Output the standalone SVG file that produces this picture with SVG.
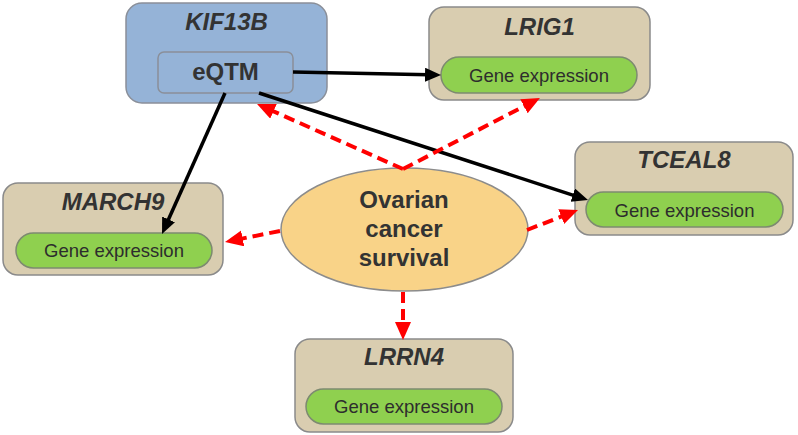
<svg xmlns="http://www.w3.org/2000/svg" width="798" height="435" viewBox="0 0 798 435">
<style>
.box{fill:#d9cdb0;stroke:#8a8a8a;stroke-width:1.5}
.blue{fill:#95b3d7;stroke:#8a8f99;stroke-width:1.5}
.pill{fill:#8fd04f;stroke:#7d8a70;stroke-width:1.5}
.title{font-family:"Liberation Sans",Arial,sans-serif;font-size:24px;font-weight:bold;font-style:italic;fill:#333;text-anchor:middle}
.bold{font-family:"Liberation Sans",Arial,sans-serif;font-size:24px;font-weight:bold;fill:#333;text-anchor:middle}
.ge{font-family:"Liberation Sans",Arial,sans-serif;font-size:18.5px;fill:#2d2d2d;text-anchor:middle}
.blk{stroke:#000;stroke-width:3.5;fill:none;marker-end:url(#ab)}
.red{stroke:#ff0000;stroke-width:4;stroke-dasharray:11 6;fill:none;marker-end:url(#ar)}
</style>
<defs>
<marker id="ab" markerUnits="userSpaceOnUse" markerWidth="18" markerHeight="18" refX="4" refY="7" orient="auto"><path d="M0,0 L16,7 L0,14 z" fill="#000"/></marker>
<marker id="ar" markerUnits="userSpaceOnUse" markerWidth="20" markerHeight="20" refX="6" refY="8" orient="auto"><path d="M0,0 L18,8 L0,16 z" fill="#ff0000"/></marker>
</defs>
<g id="KIF13B">
<rect class="blue" x="126" y="3" width="201" height="100" rx="16"/>
<text class="title" x="226.5" y="30">KIF13B</text>
<g id="eQTM">
<rect class="blue" x="158" y="52" width="135" height="41" rx="6"/>
<text class="bold" x="225.5" y="80">eQTM</text>
</g>
</g>
<g id="LRIG1">
<rect class="box" x="429" y="7" width="221" height="93" rx="15"/>
<text class="title" x="539.5" y="35">LRIG1</text>
<rect class="pill" x="441" y="57" width="196" height="36" rx="18"/>
<text class="ge" x="539" y="82">Gene expression</text>
</g>
<g id="TCEAL8">
<rect class="box" x="575" y="142" width="218" height="93" rx="15"/>
<text class="title" x="684" y="168">TCEAL8</text>
<rect class="pill" x="586" y="192" width="197" height="35" rx="17.5"/>
<text class="ge" x="684.5" y="217">Gene expression</text>
</g>
<g id="MARCH9">
<rect class="box" x="3" y="183" width="220" height="92" rx="15"/>
<text class="title" x="113" y="210">MARCH9</text>
<rect class="pill" x="16" y="233" width="196" height="35" rx="17.5"/>
<text class="ge" x="114" y="257">Gene expression</text>
</g>
<g id="LRRN4">
<rect class="box" x="295" y="339" width="218" height="93" rx="15"/>
<text class="title" x="404" y="365">LRRN4</text>
<rect class="pill" x="306" y="389" width="196" height="35" rx="17.5"/>
<text class="ge" x="404" y="413">Gene expression</text>
</g>
<g id="survival">
<ellipse cx="404.5" cy="229.5" rx="123.5" ry="61.5" fill="#f9d388" stroke="#8c8c8c" stroke-width="1.5"/>
<text class="bold" x="404" y="208">Ovarian</text>
<text class="bold" x="404" y="237">cancer</text>
<text class="bold" x="404" y="266">survival</text>
</g>
<g id="connectors">
<line class="blk" x1="293" y1="72" x2="429" y2="74.8"/>
<line class="blk" x1="225" y1="93" x2="166.9" y2="223"/>
<line class="blk" x1="259" y1="93" x2="576.6" y2="196.3"/>
<line class="red" x1="403" y1="169" x2="268" y2="108.9"/>
<line class="red" x1="403" y1="169" x2="529.3" y2="103.5"/>
<line class="red" x1="280" y1="231" x2="236.8" y2="239.6"/>
<line class="red" x1="527" y1="230" x2="566.8" y2="214.4"/>
<line class="red" x1="403" y1="292" x2="403" y2="328"/>
</g>
</svg>
